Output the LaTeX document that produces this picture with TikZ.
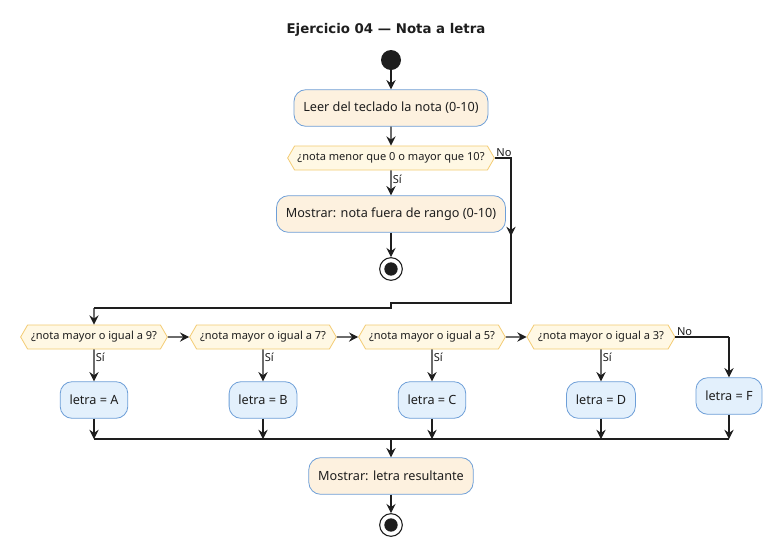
\documentclass[tikz,border=0pt]{standalone}
\usepackage{fontspec}
\setmainfont{Noto Sans}
\newfontfamily\titlefont{DejaVu Sans}
\usetikzlibrary{shapes.symbols,arrows.meta}
\definecolor{actfill}{HTML}{FDF1DF}
\definecolor{actdraw}{HTML}{6E9FD8}
\definecolor{decfill}{HTML}{FFF8E4}
\definecolor{decdraw}{HTML}{F3CB72}
\definecolor{letfill}{HTML}{E3F0FC}
\definecolor{inkc}{HTML}{1E1E1E}
\tikzset{
 act/.style={draw=actdraw,fill=actfill,rounded corners=9pt,minimum height=27.5pt,inner xsep=7pt,font=\fontsize{9.5}{11}\selectfont,text=inkc,line width=0.6pt},
 let/.style={act,fill=letfill},
 dec/.style={shape=signal,signal to=east and west,signal pointer angle=120,draw=decdraw,fill=decfill,minimum height=18pt,inner xsep=2pt,inner ysep=1pt,font=\fontsize{8.3}{10}\selectfont,text=inkc,line width=0.6pt},
 startc/.style={circle,fill=inkc,minimum size=15pt,inner sep=0pt},
 endc/.style={circle,draw=inkc,line width=0.8pt,fill=white,minimum size=17pt,inner sep=0pt,path picture={\fill[inkc] (path picture bounding box.center) circle (5pt);}},
 flow/.style={draw=inkc,line width=0.8pt,-{Stealth[length=7pt,width=7pt,inset=2.5pt]}},
 line/.style={draw=inkc,line width=0.8pt},
 lab/.style={font=\fontsize{8.3}{10}\selectfont,text=inkc,inner sep=1pt}
}
\begin{document}
\begin{tikzpicture}[x=0.75pt,y=-0.75pt]
\useasboundingbox[fill=white] (0,0) rectangle (772,547);
\node[font=\titlefont\bfseries\fontsize{10}{12}\selectfont,text=inkc] (title) at (386,30) {Ejercicio 04 — Nota a letra};
\node[startc] (s) at (391,60) {};
\node[act] (leer) at (391,108) {Leer del teclado la nota (0-10)};
\node[dec,minimum width=155pt] (d0) at (391,158) {¿nota menor que 0 o mayor que 10?};
\node[act] (fuera) at (391,214) {Mostrar: nota fuera de rango (0-10)};
\node[endc] (e1) at (391,269) {};
\coordinate (r1) at (511,158);
\coordinate (r2) at (511,303);
\coordinate (r3) at (391,303);
\coordinate (r4) at (391,308);
\coordinate (r5) at (94,308);
\node[dec,minimum width=110pt] (d1) at (94,337) {¿nota mayor o igual a 9?};
\node[dec,minimum width=110pt] (d2) at (263,337) {¿nota mayor o igual a 7?};
\node[dec,minimum width=110pt] (d3) at (432,337) {¿nota mayor o igual a 5?};
\node[dec,minimum width=111pt] (d4) at (601,337) {¿nota mayor o igual a 3?};
\node[let] (a) at (94,400) {letra = A};
\node[let] (b) at (263,400) {letra = B};
\node[let] (c) at (432,400) {letra = C};
\node[let] (d) at (601,400) {letra = D};
\node[let] (f) at (729,396) {letra = F};
\coordinate (jl) at (94,439);
\coordinate (jr) at (729,439);
\coordinate (jm) at (391,439);
\coordinate (fn) at (729,337);
\node[act] (res) at (391,476) {Mostrar: letra resultante};
\node[endc] (e2) at (391,525) {};

\draw[flow] (s) -- (leer);
\draw[flow] (leer) -- (d0);
\draw[flow] (d0) -- node[lab,right,pos=0.35]{Sí} (fuera);
\draw[flow] (fuera) -- (e1);
\draw[line] (d0.east) -- (r1) -- (r2) -- (r3) -- (r4) -- (r5);
\draw[flow] (r1) -- (511,236);
\node[lab,anchor=south west] (no0) at (d0.east) {No};
\draw[flow] (r5) -- (d1);
\draw[flow] (d1) -- (d2);
\draw[flow] (d2) -- (d3);
\draw[flow] (d3) -- (d4);
\foreach \dd/\bb in {d1/a,d2/b,d3/c,d4/d}{
  \draw[flow] (\dd) -- node[lab,right,pos=0.25]{Sí} (\bb);
  \draw[flow] (\bb) -- (\bb |- jl);
}
\node[lab,anchor=south west] (no4) at (d4.east) {No};
\draw[line] (d4.east) -- (fn);
\draw[flow] (fn) -- (f);
\draw[flow] (f) -- (jr);
\draw[line] (jl) -- (jr);
\draw[flow] (jm) -- (res);
\draw[flow] (res) -- (e2);
\end{tikzpicture}
\end{document}
